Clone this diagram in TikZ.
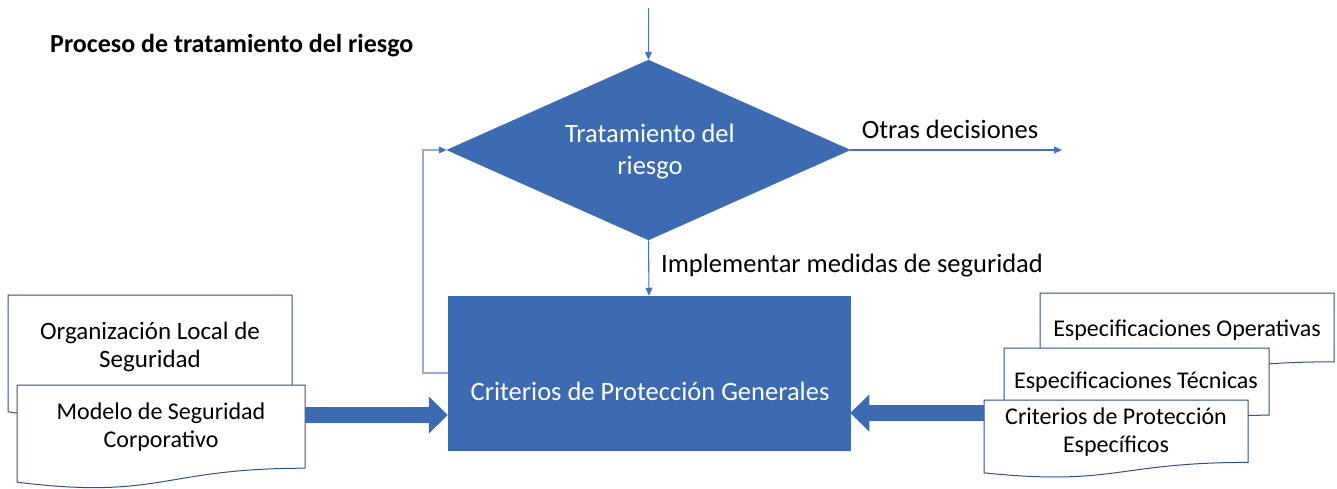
\documentclass[tikz,border=0pt]{standalone}
\usepackage{fontspec}
\setmainfont{Carlito}
\usetikzlibrary{shapes.geometric,arrows.meta}
\definecolor{mainblue}{RGB}{61,107,177}
\definecolor{docline}{RGB}{47,82,143}
\definecolor{conline}{RGB}{68,114,196}
\definecolor{fbline}{RGB}{150,172,215}
\newcommand{\docshape}[4]{%
  \filldraw[docstyle] (#1,#2) -- (#3,#2) -- (#3,{#2+0.8*#4})
    .. controls ({(#1+#3)/2},{#2+0.8*#4}) and ({(#1+#3)/2},{#2+1.107*#4}) ..
    (#1,{#2+0.934*#4}) -- cycle;}
\tikzset{
  docstyle/.style={draw=docline, fill=white, line width=1pt},
  lbl/.style={font=\fontsize{26.5}{32}\selectfont, align=center, inner sep=0pt},
  dlbl/.style={font=\fontsize{24}{27.5}\selectfont, align=center, inner sep=0pt},
  wlbl/.style={lbl, text=white},
  conn/.style={draw=conline, line width=1.1pt, -{Triangle[length=8pt,width=7pt]}},
  fb/.style={draw=fbline, line width=1.1pt, -{Triangle[length=8pt,width=7pt,color=conline]}},
  bigarrow/.style={draw=mainblue, line width=16pt, -{Triangle[length=19pt,width=36pt]}},
  blueshape/.style={fill=mainblue, draw=mainblue, line width=0.5pt, inner sep=0pt}
}
\begin{document}
\begin{tikzpicture}[x=1pt,y=-1pt]
\useasboundingbox (0,0) rectangle (1337,488);
\fill[white] (0,0) rectangle (1337,488);

% title
\node[inner sep=0pt, font=\fontsize{26}{30}\selectfont\bfseries, anchor=base west] (title) at (50,52) {Proceso de tratamiento del riesgo};

% main shapes
\node[blueshape, diamond, minimum width=403pt, minimum height=180pt, aspect=2.24] (dia) at (648.5,150) {};
\node[wlbl] (diat) at (650,152) {Tratamiento del\\riesgo};
\node[blueshape, rectangle, minimum width=402pt, minimum height=154pt] (gen) at (649,373) {};
\node[wlbl] (gent) at (650,391) {Criterios de Protección Generales};

% connectors
\coordinate (topin) at (648.5,8);
\coordinate (otrasend) at (1062,150);
\draw[conn] (topin) -- (dia.north);
\draw[conn] (dia.east) -- (otrasend);
\node[lbl] (otras) at (950,129) {Otras decisiones};
\draw[conn] (dia.south) -- (gen.north);
\node[lbl] (impl) at (852,266) {Implementar medidas de seguridad};
\draw[fb] (gen.west) -- (423,373) |- (dia.west);

% left documents
\docshape{8}{295}{292}{125}
\node[dlbl, font=\fontsize{25}{27.5}\selectfont] (org) at (150,347) {Organización Local de\\Seguridad};
\docshape{17}{385}{305}{104}
\node[dlbl] (mod) at (161,427) {Modelo de Seguridad\\Corporativo};
\coordinate (modr) at (305,415);
\draw[bigarrow] (modr) -- (gen.west |- modr);

% right documents
\docshape{1040}{293}{1334}{86}
\node[dlbl] (op) at (1187,330) {Especificaciones Operativas};
\docshape{1004}{348}{1269}{84}
\node[dlbl] (tec) at (1136,382) {Especificaciones Técnicas};
\docshape{984}{400}{1248}{78}
\node[dlbl] (crit) at (1116,432) {Criterios de Protección\\Específicos};
\coordinate (critl) at (984,413);
\draw[bigarrow] (critl) -- (gen.east |- critl);
\end{tikzpicture}
\end{document}
